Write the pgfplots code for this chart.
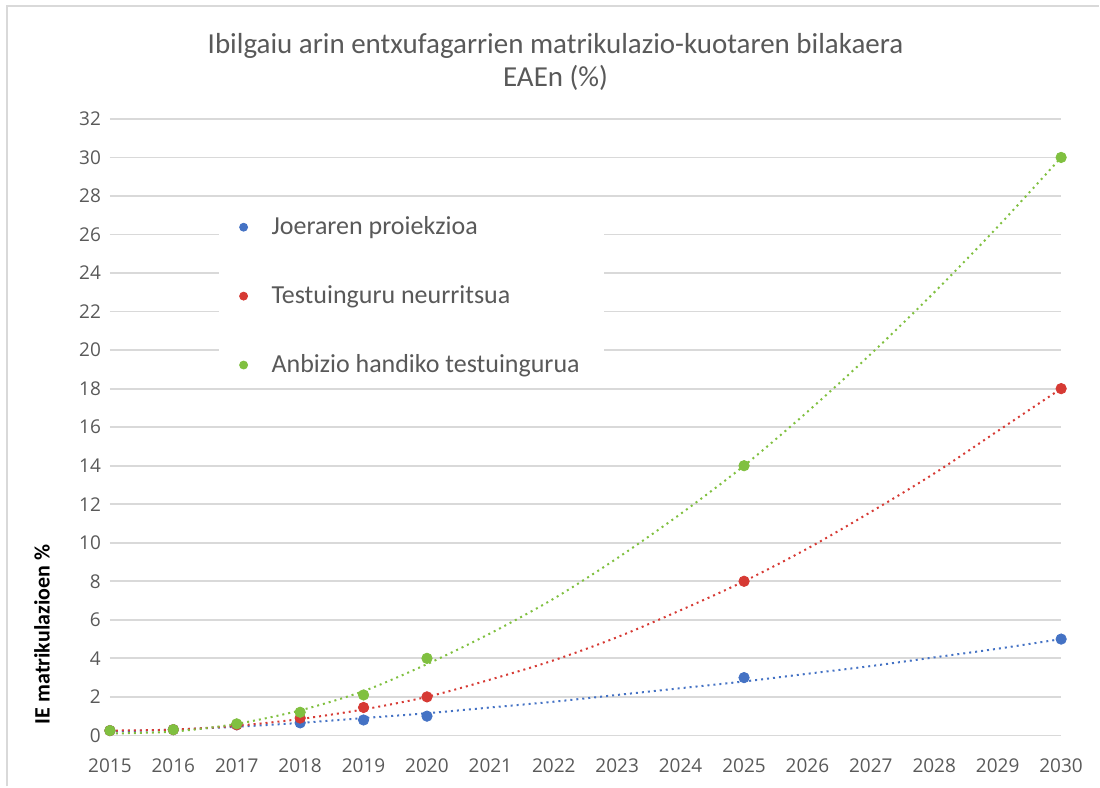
\documentclass[border=0pt]{standalone}
\usepackage{pgfplots}
\pgfplotsset{compat=1.18}
\usepackage{fontspec}
\setmainfont{Carlito}
\newfontfamily\tickfont{Open Sans}

\definecolor{tblue}{RGB}{68,114,196}
\definecolor{tred}{RGB}{214,58,52}
\definecolor{tgreen}{RGB}{128,192,64}
\definecolor{txtgray}{RGB}{89,89,89}
\definecolor{gridgray}{RGB}{217,217,217}

% observed values
\pgfplotstableread{
year  blue  red   green
2015  0.25  0.25  0.25
2016  0.30  0.30  0.30
2017  0.55  0.55  0.60
2018  0.65  0.90  1.20
2019  0.80  1.45  2.10
2020  1.00  2.00  4.00
2025  3.00  8.00  14.0
2030  5.00  18.0  30.0
}\points

% trend lines
\pgfplotstableread{
year  blue  red   green
2015  0.20  0.25  0.10
2016  0.30  0.30  0.20
2017  0.45  0.50  0.60
2018  0.65  0.85  1.30
2019  0.90  1.35  2.30
2020  1.15  2.00  3.70
2021  1.45  2.90  5.30
2022  1.75  3.90  7.10
2023  2.10  5.10  9.20
2024  2.45  6.50  11.5
2025  2.80  8.00  14.0
2026  3.20  9.70  16.8
2027  3.60  11.6  19.8
2028  4.05  13.6  23.0
2029  4.50  15.8  26.4
2030  5.00  18.0  30.0
}\trend

\begin{document}
\begin{tikzpicture}
\begin{axis}[
    scale only axis,
    width=476pt, height=308.5pt,
    xmin=2015, xmax=2030,
    ymin=0, ymax=32,
    xtick={2015,...,2030},
    ytick={0,2,...,32},
    axis line style={draw=none},
    major tick length=0pt,
    ymajorgrids,
    grid style={gridgray, line width=0.9pt},
    /pgf/number format/1000 sep={},
    /pgf/number format/assume math mode=true,
    tick label style={font=\tickfont\fontsize{9.5}{12}\selectfont, text=txtgray},
    xticklabel style={yshift=-8pt, text height=7pt, text depth=0pt},
    yticklabel style={xshift=-1pt},
    clip=false,
    legend style={at={(0.1145,0.855)}, anchor=north west, draw=none, fill=white,
        font=\fontsize{13}{15}\selectfont, text=txtgray,
        row sep=20pt, inner xsep=10pt, inner ysep=2pt},
    legend cell align=left,
    legend image code/.code={\fill[#1] (0,0) circle (2pt); \path[draw=none] (-2pt,0) (12pt,0);},
]
\addplot[tblue, dotted, line width=1pt, smooth, forget plot] table[x=year, y=blue] {\trend};
\addplot[tred, dotted, line width=1pt, smooth, forget plot] table[x=year, y=red] {\trend};
\addplot[tgreen, dotted, line width=1pt, smooth, forget plot] table[x=year, y=green] {\trend};

\addplot[only marks, mark=*, mark size=2.6pt, color=tblue] table[x=year, y=blue] {\points};
\addplot[only marks, mark=*, mark size=2.6pt, color=tred] table[x=year, y=red] {\points};
\addplot[only marks, mark=*, mark size=2.6pt, color=tgreen] table[x=year, y=green] {\points};
\legend{Joeraren proiekzioa, Testuinguru neurritsua, Anbizio handiko testuingurua}
\end{axis}
\node[text=txtgray, font=\fontsize{14.5}{16.5}\selectfont, align=center] at (223pt,337pt)
    {Ibilgaiu arin entxufagarrien matrikulazio-kuotaren bilakaera\\EAEn (\%)};
\node[rotate=90, font=\bfseries\fontsize{11}{13}\selectfont] at (-34pt,50.5pt) {IE matrikulazioen \%};
\draw[gridgray, line width=0.9pt] (-51.5pt,-25.5pt) -- (-51.5pt,365pt) -- (495pt,365pt);
\useasboundingbox (-55pt,-25.5pt) rectangle (495pt,368pt);
\end{tikzpicture}
\end{document}
